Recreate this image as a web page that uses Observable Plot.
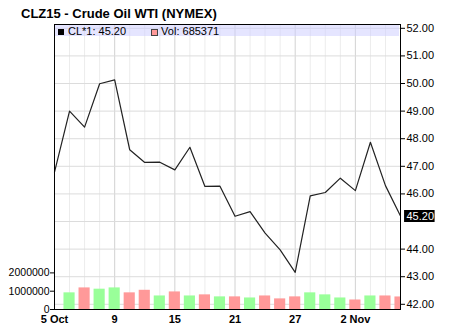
<!DOCTYPE html>
<html><head><meta charset="utf-8">
<script src="https://cdn.jsdelivr.net/npm/d3@7"></script>
<script src="https://cdn.jsdelivr.net/npm/@observablehq/plot@0.6"></script>
<style>
body{margin:0;background:#fff;}
#wrap{position:relative;width:461px;height:327px;font-family:"Liberation Sans",Arial,sans-serif;overflow:hidden;}
#wrap svg{position:absolute;left:0;top:0;}
#title{position:absolute;left:21px;top:6px;font-weight:bold;font-size:13px;color:#000;white-space:nowrap;}
#band{position:absolute;left:55px;top:25px;width:344px;height:11px;background:rgba(204,204,255,0.5);}
#legend{position:absolute;left:58px;top:25px;font-size:11px;line-height:12px;color:#000;white-space:nowrap;}
#legend .sw{display:inline-block;width:6px;height:6px;margin-right:4px;vertical-align:0px;}
</style></head><body><div id="wrap"></div>
<script>
const dates = ["2015-10-05","2015-10-06","2015-10-07","2015-10-08","2015-10-09",
  "2015-10-12","2015-10-13","2015-10-14","2015-10-15","2015-10-16",
  "2015-10-19","2015-10-20","2015-10-21","2015-10-22","2015-10-23",
  "2015-10-26","2015-10-27","2015-10-28","2015-10-29","2015-10-30",
  "2015-11-02","2015-11-03","2015-11-04","2015-11-05"];
const closes = [46.79,49.00,48.42,49.99,50.13,
  47.60,47.14,47.15,46.87,47.69,
  46.27,46.28,45.19,45.36,44.58,
  43.97,43.16,45.93,46.05,46.57,
  46.12,47.87,46.30,45.20];
const volumes = [null,910000,1180000,1110000,1180000,
  910000,1050000,740000,960000,740000,
  800000,690000,690000,630000,740000,
  580000,690000,910000,800000,630000,
  520000,740000,740000,685371];
const xTickDates = ["2015-10-05","2015-10-09","2015-10-15","2015-10-21","2015-10-27","2015-11-02"];
const xTickLabels = ["5 Oct","9","15","21","27","2 Nov"];
const priceGrid = [42,43,44,45,46,47,48,49,50,51,52];
const priceTicks = [42,43,44,46,47,48,49,50,51,52];
const volumeTicks = [0,1000000,2000000];
const lastClose = 45.20;
const lastVolume = 685371;
const titleText = "CLZ15 - Crude Oil WTI (NYMEX)";

const rows = dates.map((d, i) => ({
  i, date: d, close: closes[i], volume: volumes[i],
  dir: i > 0 && closes[i] >= closes[i - 1] ? "up" : "down"
}));
const tickIdx = xTickDates.map(d => dates.indexOf(d));
const n = dates.length;

const common = {
  width: 461, height: 327,
  marginLeft: 54, marginRight: 61, marginTop: 24, marginBottom: 18,
  style: {background: "transparent", fontFamily: "'Liberation Sans', Arial, sans-serif", fontSize: "11px", color: "#000"}
};

const main = Plot.plot({
  ...common,
  x: {type: "linear", domain: [0, n - 1], label: null, axis: null},
  y: {domain: [41.812, 52.138], label: null, axis: null},
  marks: [
    Plot.ruleX(rows, {x: "i", stroke: d => tickIdx.includes(d.i) ? "#d2d2d2" : "#ececec"}),
    Plot.ruleY(priceGrid, {stroke: "#dcdcdc"}),
    Plot.line(rows, {x: "i", y: "close", stroke: "#222", strokeWidth: 1.2}),
    Plot.frame({stroke: "#000"}),
    Plot.axisY(priceTicks, {anchor: "right", label: null, tickSize: 4, tickPadding: 2, tickFormat: d => d.toFixed(2), fontSize: 11}),
    Plot.ruleY([lastClose], {x1: n - 1 + 0.27, x2: n - 1 + 2.3, stroke: "#000", strokeWidth: 12}),
    Plot.text([lastClose], {y: d => d, frameAnchor: "right", dx: 6, textAnchor: "start", text: d => d.toFixed(2), fill: "#fff", fontSize: 11}),
    Plot.axisX(tickIdx, {anchor: "bottom", label: null, tickSize: 0, tickPadding: 6, tickFormat: i => xTickLabels[tickIdx.indexOf(i)], fontWeight: "bold", fontSize: 11})
  ]
});

const vol = Plot.plot({
  ...common,
  x: {type: "linear", domain: [0, n - 1], label: null, axis: null},
  y: {domain: [0, 15.57e6], label: null, axis: null},
  color: {domain: ["up", "down"], range: ["#99ff99", "#ff9999"]},
  marks: [
    Plot.rect(rows.filter(d => d.volume != null), {x1: d => d.i - 0.37, x2: d => d.i + 0.37, y1: 0, y2: "volume", fill: "dir", clip: true}),
    Plot.frame({stroke: "#000"}),
    Plot.axisY(volumeTicks, {anchor: "left", label: null, tickSize: 4, tickPadding: 1, tickFormat: d => String(d), fontSize: 10.5})
  ]
});

const wrap = document.getElementById("wrap");
wrap.appendChild(main);
const band = document.createElement("div"); band.id = "band"; wrap.appendChild(band);
wrap.appendChild(vol);
const title = document.createElement("div"); title.id = "title"; title.textContent = titleText; wrap.appendChild(title);
const legend = document.createElement("div"); legend.id = "legend";
legend.innerHTML = `<span class="sw" style="background:#000"></span>CL*1: ${lastClose.toFixed(2)}<span style="display:inline-block;width:26px"></span><span class="sw" style="background:#ff9999;outline:1px solid #444;width:5px;height:5px"></span>Vol: ${lastVolume}`;
wrap.appendChild(legend);
</script></body></html>
